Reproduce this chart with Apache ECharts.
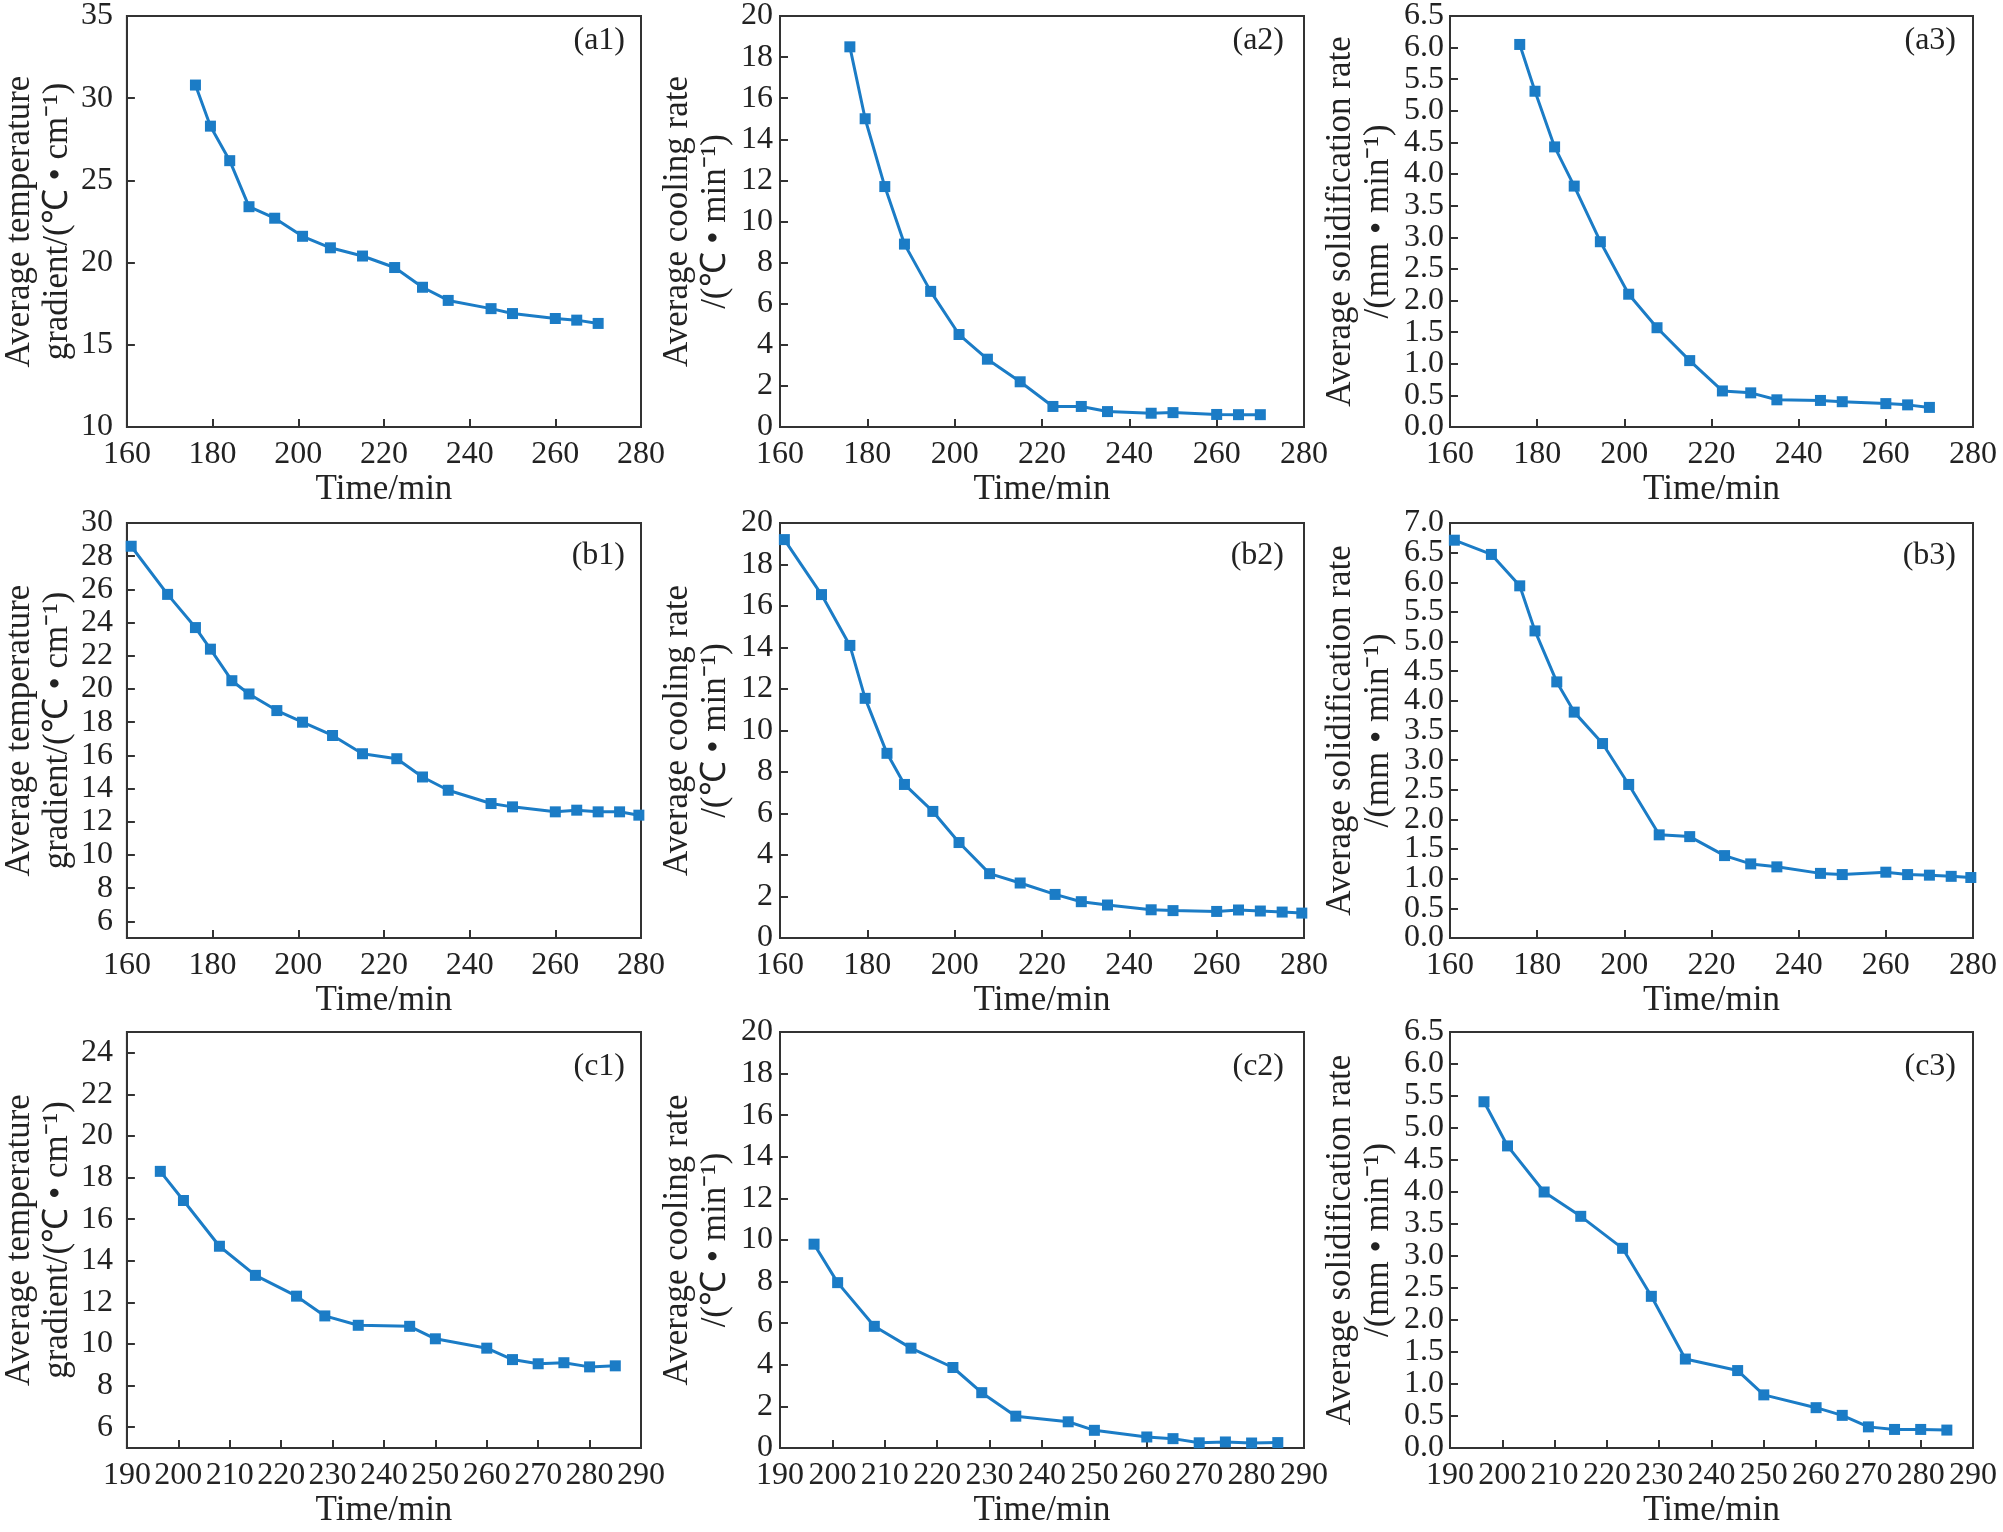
<!DOCTYPE html>
<html>
<head>
<meta charset="utf-8">
<title>Average temperature gradient, cooling rate and solidification rate</title>
<script src="https://cdn.jsdelivr.net/npm/echarts@6/dist/echarts.min.js"></script>
<style>
    html, body { margin: 0; padding: 0; background: #fff; }
    #main { width: 2003px; height: 1532px; }
</style>
</head>
<body>
<div id="main"></div>
<script>
// ---- 数据 ----
// 时间 (min)
const timeA = [176, 179.5, 184, 188.5, 194.5, 201, 207.5, 215, 222.5, 229, 235, 245, 250, 260, 265, 270]
const timeB = [161, 169.5, 176, 179.5, 184.5, 188.5, 195, 201, 208, 215, 223, 229, 235, 245, 250, 260, 265, 270, 275, 279.5]
const timeC = [196.5, 201, 208, 215, 223, 228.5, 235, 245, 250, 260, 265, 270, 275, 280, 285]

// (a) row
const gradA = [30.8, 28.3, 26.2, 23.4, 22.7, 21.6, 20.9, 20.4, 19.7, 18.5, 17.7, 17.2, 16.9, 16.6, 16.5, 16.3]
const coolA = [18.5, 15.0, 11.7, 8.9, 6.6, 4.5, 3.3, 2.2, 1.0, 1.0, 0.75, 0.67, 0.7, 0.61, 0.6, 0.6]
const solidA = [6.05, 5.31, 4.43, 3.81, 2.93, 2.1, 1.57, 1.05, 0.57, 0.54, 0.43, 0.42, 0.4, 0.37, 0.35, 0.31]

// (b) row
const gradB = [28.6, 25.7, 23.7, 22.4, 20.5, 19.7, 18.7, 18.0, 17.2, 16.1, 15.8, 14.7, 13.9, 13.1, 12.9, 12.6, 12.7, 12.6, 12.6, 12.4]
const coolB = [19.2, 16.55, 14.1, 11.55, 8.9, 7.4, 6.1, 4.6, 3.1, 2.65, 2.1, 1.75, 1.59, 1.36, 1.32, 1.28, 1.35, 1.3, 1.25, 1.2]
const solidB = [6.71, 6.47, 5.94, 5.18, 4.32, 3.81, 3.28, 2.59, 1.74, 1.71, 1.39, 1.25, 1.2, 1.09, 1.07, 1.11, 1.07, 1.06, 1.04, 1.02]

// (c) row
const gradC = [18.3, 16.9, 14.7, 13.3, 12.3, 11.35, 10.9, 10.85, 10.25, 9.8, 9.25, 9.05, 9.1, 8.9, 8.95]
const coolC = [9.8, 7.95, 5.85, 4.8, 3.87, 2.66, 1.53, 1.26, 0.85, 0.53, 0.45, 0.25, 0.29, 0.24, 0.26]
const solidC = [5.41, 4.72, 4.0, 3.62, 3.12, 2.37, 1.39, 1.21, 0.83, 0.63, 0.51, 0.33, 0.29, 0.29, 0.28]

// 刻度
const gradTicksB = [6, 8, 10, 12, 14, 16, 18, 20, 22, 24, 26, 28, 30]
const gradTicksC = [6, 8, 10, 12, 14, 16, 18, 20, 22, 24]
const solidTicks65 = [0, 0.5, 1, 1.5, 2, 2.5, 3, 3.5, 4, 4.5, 5, 5.5, 6, 6.5]
const solidTicks70 = [0, 0.5, 1, 1.5, 2, 2.5, 3, 3.5, 4, 4.5, 5, 5.5, 6, 6.5, 7]

// 坐标轴名称
const nameGrad = 'Average temperature\ngradient/(℃ • cm⁻¹)'
const nameCool = 'Average cooling rate\n/(℃ • min⁻¹)'
const nameSolid = 'Average solidification rate\n/(mm • min⁻¹)'

// ---- 布局 ----
const FONT = "'Liberation Serif', 'Times New Roman', serif"
const TEXT = '#222'
const BLUE = '#1b7cc6'

const colLeft = [118, 780, 1450]
const colWidth = [523, 524, 523]
const rowTop = [11, 523, 1032]
const rowHeight = [416, 415, 416]

// 每个小图: 列, 行, 数据, 轴范围
const panels = [
    { tag: '(a1)', col: 0, row: 0, x: timeA, y: gradA, name: nameGrad, xMin: 160, xMax: 280, xStep: 20, yMin: 10, yMax: 35, yStep: 5 },
    { tag: '(a2)', col: 1, row: 0, x: timeA, y: coolA, name: nameCool, xMin: 160, xMax: 280, xStep: 20, yMin: 0, yMax: 20, yStep: 2 },
    { tag: '(a3)', col: 2, row: 0, x: timeA, y: solidA, name: nameSolid, xMin: 160, xMax: 280, xStep: 20, yMin: 0, yMax: 6.5, ticks: solidTicks65, fixed: 1, dense: true },
    { tag: '(b1)', col: 0, row: 1, x: timeB, y: gradB, name: nameGrad, xMin: 160, xMax: 280, xStep: 20, yMin: 5, yMax: 30, ticks: gradTicksB },
    { tag: '(b2)', col: 1, row: 1, x: timeB, y: coolB, name: nameCool, xMin: 160, xMax: 280, xStep: 20, yMin: 0, yMax: 20, yStep: 2 },
    { tag: '(b3)', col: 2, row: 1, x: timeB, y: solidB, name: nameSolid, xMin: 160, xMax: 280, xStep: 20, yMin: 0, yMax: 7, ticks: solidTicks70, fixed: 1, dense: true },
    { tag: '(c1)', col: 0, row: 2, x: timeC, y: gradC, name: nameGrad, xMin: 190, xMax: 290, xStep: 10, yMin: 5, yMax: 25, ticks: gradTicksC },
    { tag: '(c2)', col: 1, row: 2, x: timeC, y: coolC, name: nameCool, xMin: 190, xMax: 290, xStep: 10, yMin: 0, yMax: 20, yStep: 2 },
    { tag: '(c3)', col: 2, row: 2, x: timeC, y: solidC, name: nameSolid, xMin: 190, xMax: 290, xStep: 10, yMin: 0, yMax: 6.5, ticks: solidTicks65, fixed: 1, dense: true },
]

// 每列 y 轴标签/名称的间距
const labelMargin = [14, 7, 6]
const nameGap = [44, 45, 52]
const tagInset = [16, 20, 17]
const tagTop = [25, 540, 1051]

const grids = [], xAxes = [], yAxes = [], series = [], titles = []

const axisLineStyle = { show: true, lineStyle: { color: '#333', width: 2 } }
const tickStyle = { show: true, inside: true, length: 8, lineStyle: { color: '#333', width: 2 } }

panels.forEach((p, i) => {
    grids.push({
        left: colLeft[p.col],
        top: rowTop[p.row],
        width: colWidth[p.col],
        height: rowHeight[p.row],
        show: true,
        borderColor: '#333',
        borderWidth: 2,
        backgroundColor: 'transparent',
    })

    xAxes.push({
        type: 'value',
        gridIndex: i,
        min: p.xMin,
        max: p.xMax,
        interval: p.xStep,
        name: 'Time/min',
        nameLocation: 'middle',
        nameGap: 43,
        nameTextStyle: { fontFamily: FONT, fontSize: 35, color: TEXT },
        axisLine: axisLineStyle,
        axisTick: tickStyle,
        axisLabel: {
            fontFamily: FONT, fontSize: 32, color: TEXT, margin: 12,
            showMinLabel: true, showMaxLabel: true, hideOverlap: false,
        },
        splitLine: { show: false },
    })

    const fmt = (v) => (p.fixed ? v.toFixed(p.fixed) : String(v))
    const y = {
        type: 'value',
        gridIndex: i,
        position: 'left',
        min: p.yMin,
        max: p.yMax,
        name: p.name,
        nameLocation: 'middle',
        nameGap: nameGap[p.col],
        nameRotate: 90,
        nameTextStyle: { fontFamily: FONT, fontSize: 35, color: TEXT, lineHeight: 38 },
        axisLine: axisLineStyle,
        axisTick: Object.assign({}, tickStyle),
        axisLabel: {
            fontFamily: FONT,
            fontSize: 32,
            color: TEXT,
            margin: labelMargin[p.col],
            // 密集刻度: 首尾标签交给下面的辅助轴, 免得 ECharts 把相邻标签藏掉
            showMinLabel: !p.dense,
            showMaxLabel: !p.dense,
            hideOverlap: false,
            formatter: fmt,
        },
        splitLine: { show: false },
    }
    if (p.ticks) {
        y.axisLabel.customValues = p.ticks
        y.axisTick.customValues = p.ticks
    } else {
        y.interval = p.yStep
    }
    yAxes.push(y)
    const yIndex = yAxes.length - 1

    if (p.dense) {
        // 辅助轴: 只画首尾两个标签
        yAxes.push({
            type: 'value',
            gridIndex: i,
            position: 'left',
            offset: 0,
            min: p.yMin,
            max: p.yMax,
            axisLine: { show: false },
            axisTick: { show: false },
            splitLine: { show: false },
            axisLabel: {
                fontFamily: FONT,
                fontSize: 32,
                color: TEXT,
                margin: labelMargin[p.col],
                showMinLabel: true,
                showMaxLabel: true,
                customValues: [p.ticks[0], p.ticks[p.ticks.length - 1]],
                formatter: fmt,
            },
        })
    }

    series.push({
        type: 'line',
        xAxisIndex: i,
        yAxisIndex: yIndex,
        data: p.x.map((t, k) => [t, p.y[k]]),
        symbol: 'rect',
        symbolSize: 11,
        lineStyle: { color: BLUE, width: 3 },
        itemStyle: { color: BLUE },
        animation: false,
    })

    // 小图编号
    titles.push({
        text: p.tag,
        right: 2003 - (colLeft[p.col] + colWidth[p.col] - tagInset[p.col]),
        top: tagTop[p.row],
        padding: 0,
        textStyle: { fontFamily: FONT, fontSize: 32, fontWeight: 'normal', color: TEXT },
    })
})

const chart = echarts.init(document.getElementById('main'))
chart.setOption({
    animation: false,
    backgroundColor: '#fff',
    title: titles,
    grid: grids,
    xAxis: xAxes,
    yAxis: yAxes,
    series: series,
})
</script>
</body>
</html>
